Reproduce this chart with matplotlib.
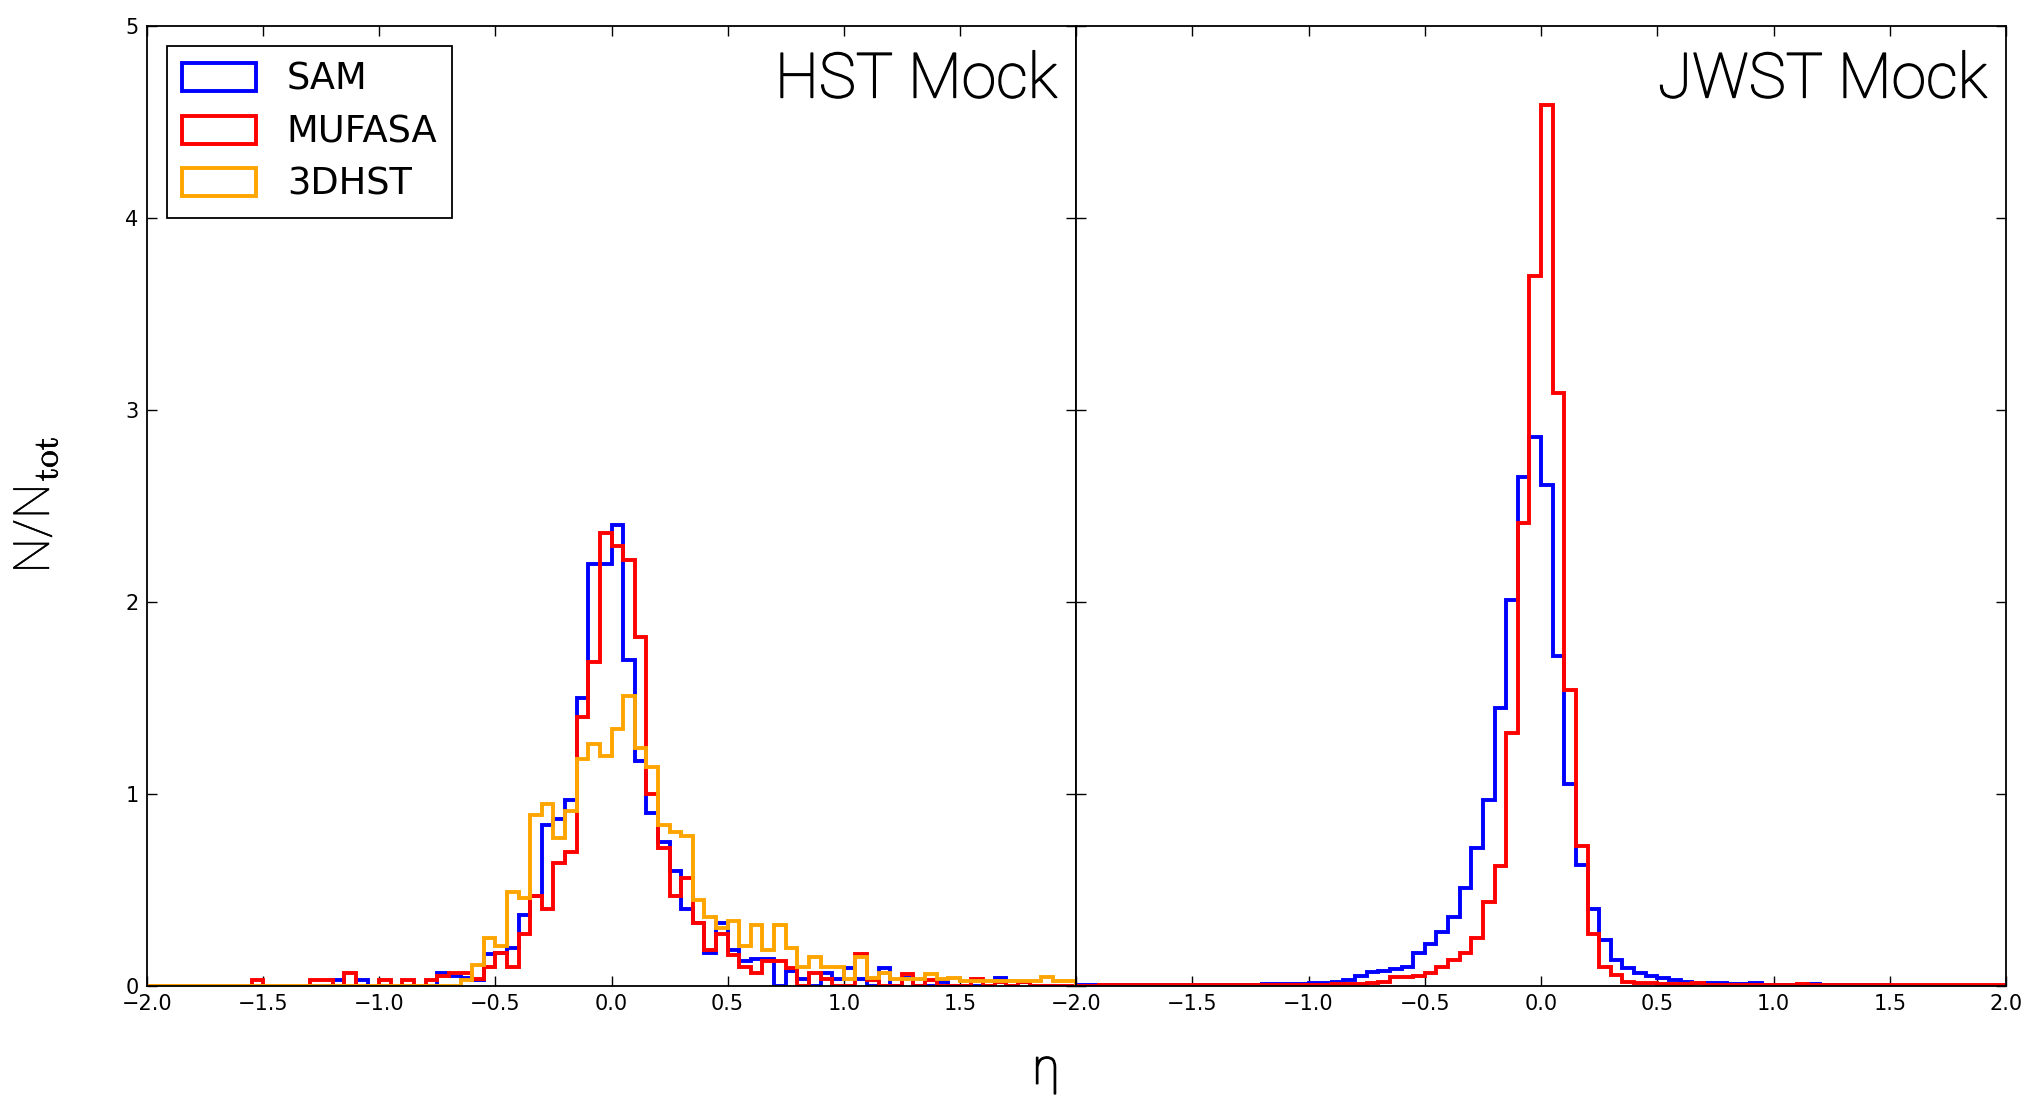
import numpy as np
import matplotlib
matplotlib.use("Agg")
import matplotlib.pyplot as plt
import matplotlib.patheffects as pe

plt.rcParams['mathtext.fontset'] = 'cm'
plt.rcParams['xtick.direction'] = 'in'
plt.rcParams['ytick.direction'] = 'in'

# bins: 80 bins of width 0.05 from -2 to 2
bin_edges = np.linspace(-2.0, 2.0, 81)
bin_centers = 0.5 * (bin_edges[:-1] + bin_edges[1:])

# HST Mock (left panel)
hst_sam = [
    0, 0, 0, 0, 0, 0, 0, 0, 0, 0,
    0, 0, 0, 0, 0, 0, 0.03, 0, 0.03, 0,
    0, 0, 0, 0, 0, 0.066, 0.05, 0.04, 0.03, 0.165,
    0.17, 0.20, 0.37, 0.47, 0.84, 0.87, 0.97, 1.50, 2.20, 2.20,
    2.40, 1.70, 1.17, 0.90, 0.75, 0.60, 0.40, 0.33, 0.17, 0.33,
    0.19, 0.13, 0.14, 0.14, 0.0, 0.08, 0.035, 0.0, 0.07, 0.035,
    0.095, 0.035, 0.0, 0.095, 0.0, 0.04, 0.0, 0.0, 0.02, 0.0,
    0.0, 0.0, 0.0, 0.04, 0.0, 0.02, 0.0, 0.0, 0.0, 0.0,
]
hst_mufasa = [
    0, 0, 0, 0, 0, 0, 0, 0, 0, 0.03,
    0, 0, 0, 0, 0.03, 0.03, 0, 0.07, 0, 0,
    0.03, 0, 0.03, 0, 0.03, 0.05, 0.066, 0.066, 0.035, 0.10,
    0.17, 0.10, 0.27, 0.47, 0.40, 0.64, 0.70, 1.40, 1.69, 2.36,
    2.29, 2.22, 1.82, 1.00, 0.72, 0.47, 0.56, 0.33, 0.19, 0.27,
    0.16, 0.10, 0.07, 0.13, 0.13, 0.095, 0.0, 0.07, 0.035, 0.0,
    0.0, 0.165, 0.03, 0.0, 0.0, 0.06, 0.0, 0.03, 0.0, 0.0,
    0.0, 0.035, 0.0, 0.02, 0.0, 0.02, 0.0, 0.0, 0.0, 0.0,
]
hst_3dhst = [
    0, 0, 0, 0, 0, 0, 0, 0, 0, 0,
    0, 0, 0, 0, 0, 0, 0, 0, 0, 0,
    0, 0, 0, 0, 0, 0, 0, 0.03, 0.11, 0.25,
    0.21, 0.49, 0.46, 0.89, 0.95, 0.77, 0.91, 1.18, 1.26, 1.20,
    1.34, 1.51, 1.24, 1.14, 0.84, 0.80, 0.78, 0.45, 0.36, 0.30,
    0.34, 0.21, 0.32, 0.19, 0.32, 0.20, 0.10, 0.15, 0.10, 0.10,
    0.035, 0.15, 0.04, 0.07, 0.035, 0.035, 0.035, 0.06, 0.035, 0.043,
    0.026, 0.026, 0.026, 0.026, 0.026, 0.026, 0.026, 0.045, 0.026, 0.026,
]

# JWST Mock (right panel)
jwst_sam = [
    0.003, 0.003, 0.004, 0.003, 0.004, 0.004, 0.005, 0.004, 0.005, 0.005,
    0.006, 0.005, 0.006, 0.007, 0.006, 0.007, 0.008, 0.008, 0.009, 0.01,
    0.014, 0.017, 0.022, 0.03, 0.05, 0.075, 0.08, 0.087, 0.10, 0.17,
    0.22, 0.28, 0.36, 0.51, 0.72, 0.97, 1.45, 2.01, 2.65, 2.86,
    2.61, 1.72, 1.05, 0.63, 0.40, 0.24, 0.135, 0.092, 0.066, 0.052,
    0.04, 0.031, 0.019, 0.014, 0.014, 0.014, 0.009, 0.009, 0.017, 0.005,
    0.005, 0.005, 0.005, 0.009, 0.003, 0.003, 0.003, 0.003, 0.003, 0.003,
    0.002, 0.002, 0.002, 0.002, 0.002, 0.002, 0.002, 0.002, 0.002, 0.002,
]
jwst_mufasa = [
    0.002, 0.002, 0.003, 0.005, 0.005, 0.004, 0.003, 0.003, 0.004, 0.004,
    0.004, 0.004, 0.005, 0.004, 0.005, 0.004, 0.004, 0.005, 0.005, 0.006,
    0.006, 0.006, 0.008, 0.01, 0.012, 0.017, 0.023, 0.049, 0.049, 0.052,
    0.066, 0.10, 0.135, 0.17, 0.25, 0.44, 0.625, 1.32, 2.41, 3.70,
    4.59, 3.09, 1.54, 0.73, 0.27, 0.10, 0.057, 0.023, 0.017, 0.017,
    0.01, 0.01, 0.01, 0.014, 0.006, 0.006, 0.006, 0.006, 0.006, 0.004,
    0.004, 0.004, 0.01, 0.004, 0.004, 0.004, 0.004, 0.004, 0.003, 0.003,
    0.003, 0.003, 0.003, 0.003, 0.003, 0.003, 0.003, 0.003, 0.003, 0.003,
]

labels = ['SAM', 'MUFASA', '3DHST']
colors = ['blue', 'red', 'orange']
xticks = [-2.0, -1.5, -1.0, -0.5, 0.0, 0.5, 1.0, 1.5, 2.0]
yticks = [0, 1, 2, 3, 4, 5]

fig = plt.figure(figsize=(20.42, 11.10), dpi=100)
ax1 = fig.add_axes([147/2042, 1 - 986/1110, 929/2042, 960/1110])
ax2 = fig.add_axes([1076/2042, 1 - 986/1110, 930/2042, 960/1110], sharey=ax1)

left_data = [hst_sam, hst_mufasa, hst_3dhst]
for vals, c, lab in zip(left_data, colors, labels):
    ax1.hist(bin_centers, bins=bin_edges, weights=vals, histtype='step',
             color=c, lw=2.8, label=lab)

for vals, c, lab in zip([jwst_sam, jwst_mufasa], colors[:2], labels[:2]):
    ax2.hist(bin_centers, bins=bin_edges, weights=vals, histtype='step',
             color=c, lw=2.8, label=lab)

for ax in (ax1, ax2):
    ax.set_xlim(-2, 2)
    ax.set_ylim(0, 5)
    ax.set_xticks(xticks)
    ax.set_yticks(yticks)
    ax.tick_params(top=True, right=True, length=7, width=1, labelsize=15, pad=6)
    for s in ax.spines.values():
        s.set_linewidth(1.3)

ax1.set_xticklabels([f'{t:.1f}'.replace('-', '\u2212') for t in xticks[:-1]] + [''])
ax2.set_xticklabels([f'{t:.1f}'.replace('-', '\u2212') for t in xticks])
ax1.set_yticklabels([str(t) for t in yticks])
ax2.tick_params(labelleft=False)

# light font, slightly thickened
thick = [pe.withStroke(linewidth=1.0, foreground='black')]

ax1.text(0.98, 0.975, 'HST Mock', transform=ax1.transAxes, ha='right', va='top',
         fontsize=45, family='Roboto', fontweight='light', path_effects=thick)
ax2.text(0.98, 0.975, 'JWST Mock', transform=ax2.transAxes, ha='right', va='top',
         fontsize=45, family='Roboto', fontweight='light', path_effects=thick)

leg = ax1.legend(loc='upper left', fontsize=26.5, fancybox=False, edgecolor='black',
                 handlelength=2.0, handleheight=0.8, handletextpad=0.85,
                 labelspacing=0.42, borderaxespad=0.55, framealpha=1)
leg.get_frame().set_linewidth(1.3)

fig.text(1046/2042, 1 - 1070/1110, '\u03b7', ha='center', va='center',
         fontsize=36, family='Roboto', fontweight='light', path_effects=thick)
fig.text(36/2042, 0.545, r'N/N$_{\mathrm{tot}}$', ha='center', va='center',
         rotation=90, fontsize=36, family='Roboto', fontweight='light',
         path_effects=[pe.withStroke(linewidth=0.4, foreground='black')])

fig.savefig('out.png', dpi=100)
